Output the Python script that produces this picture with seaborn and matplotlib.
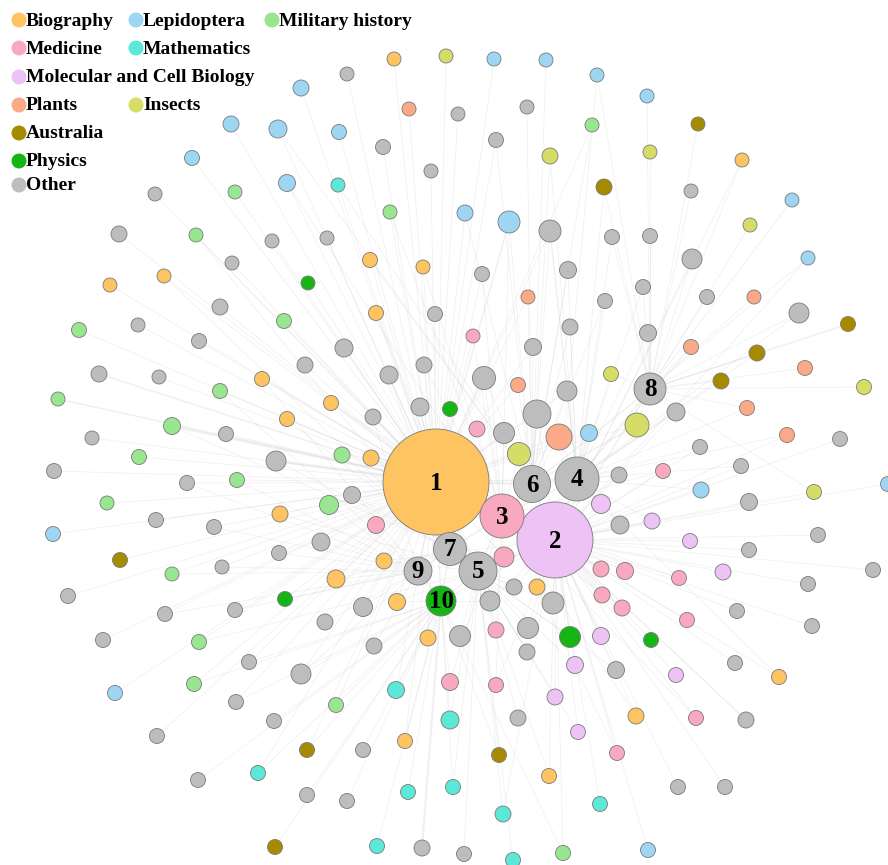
import numpy as np
import pandas as pd
import matplotlib
matplotlib.use("Agg")
import matplotlib.pyplot as plt
from matplotlib.collections import LineCollection
import seaborn as sns

# ---------------- data ----------------
categories = ["Biography", "Lepidoptera", "Military history", "Medicine", "Mathematics",
              "Molecular and Cell Biology", "Plants", "Insects", "Australia", "Physics", "Other"]
colors = ["#FDC461", "#9DD5F3", "#98E690", "#F8A9C0", "#5BE8D6",
          "#ECC3F4", "#FBAA88", "#D6DD66", "#A68A00", "#14B514", "#BDBDBD"]

# top-10 nodes (label = position + 1): x, y, radius, category
top_nodes = [
    (436, 482, 53, "Biography"),
    (555, 540, 38, "Molecular and Cell Biology"),
    (502, 516, 22, "Medicine"),
    (577, 479, 22, "Other"),
    (478, 571, 19, "Other"),
    (532, 484, 18.5, "Other"),
    (450, 549, 16.5, "Other"),
    (650, 389, 16, "Other"),
    (418, 571, 14, "Other"),
    (441, 601, 15, "Physics"),
]
# links between top nodes: (a, b, weight)
top_links = [(1, 2, 3), (1, 3, 3), (1, 4, 2), (1, 5, 2), (1, 6, 3), (1, 7, 3), (1, 9, 2),
             (1, 10, 2), (2, 3, 3), (2, 4, 3), (2, 5, 2), (2, 6, 2), (2, 8, 2), (3, 6, 2),
             (3, 5, 2), (3, 7, 2), (4, 6, 2), (4, 8, 2), (5, 7, 2), (5, 10, 2), (6, 8, 2),
             (7, 9, 2), (9, 10, 2), (7, 10, 2), (2, 10, 1), (3, 4, 2)]

# other nodes: x, y, radius, linked top nodes ("k*w" = weight w)
biography = [(394, 59, 7, "1"), (164, 276, 7, "1 7"), (110, 285, 7, "1"), (742, 160, 7, "2 8"),
             (370, 260, 7.5, "1 6"), (423, 267, 7, "1 3"), (376, 313, 7.5, "1 5"),
             (262, 379, 7.5, "1 9"), (287, 419, 7.5, "1 7"), (331, 403, 7.5, "1 3"),
             (371, 458, 8, "1 2 7"), (280, 514, 8, "1 5"), (384, 561, 8, "1 2 5"),
             (336, 579, 9, "1 7 9"), (397, 602, 8.5, "1 2 10"), (537, 587, 8, "2 5"),
             (428, 638, 8, "1 10"), (405, 741, 7.5, "1 10"), (549, 776, 7.5, "2 5"),
             (779, 677, 7.5, "2 4"), (636, 716, 8, "2 3")]
lepidoptera = [(301, 88, 8, "1"), (231, 124, 8, "1"), (278, 129, 9, "1 6"), (192, 158, 7.5, "1"),
               (287, 183, 8.5, "1 3"), (494, 59, 7, "1"), (546, 60, 7, "6"), (597, 75, 7, "2 8"),
               (339, 132, 7.5, "1"), (465, 213, 8, "1 6"), (509, 222, 11, "1*2 6 3"),
               (647, 96, 7, "8"), (792, 200, 7, "8"), (808, 258, 7, "2 8"),
               (589, 433, 8.5, "1 2 4"), (701, 490, 8, "2 4"), (888, 484, 7.5, "2"),
               (53, 534, 7.5, "1"), (115, 693, 7.5, "1"), (648, 850, 7.5, "2")]
military = [(592, 125, 7, "1 6"), (235, 192, 7, "1"), (196, 235, 7, "1 7"), (390, 212, 7, "1 3"),
            (284, 321, 7.5, "1"), (79, 330, 7.5, "1"), (220, 391, 7.5, "1 9"), (58, 399, 7, "1*2"),
            (172, 426, 8.5, "1*3 7"), (139, 457, 7.5, "1"), (237, 480, 7.5, "1 9"),
            (107, 503, 7, "1"), (172, 574, 7, "1 9"), (342, 455, 8, "1 7"),
            (329, 505, 9.5, "1 9"), (199, 642, 7.5, "1 5"), (194, 684, 7.5, "1 10"),
            (336, 705, 7.5, "1 10"), (563, 853, 7.5, "2 10")]
medicine = [(473, 336, 7, "1 3"), (477, 429, 8, "1 3"), (376, 525, 8.5, "1 3"),
            (504, 557, 10, "1 2 3"), (663, 471, 7.5, "2 3"), (601, 569, 8, "2 3"),
            (625, 571, 8.5, "2 3"), (679, 578, 7.5, "2 3"), (602, 595, 8, "2 3"),
            (622, 608, 8, "2 3"), (687, 620, 7.5, "2"), (496, 630, 8, "3 5"),
            (450, 682, 8.5, "3 10"), (496, 685, 7.5, "2 3"), (696, 718, 7.5, "2 3"),
            (617, 753, 7.5, "2 3")]
mathematics = [(338, 185, 7, "1 6"), (396, 690, 8.5, "1 10"), (450, 720, 9, "5 10"),
               (258, 773, 7.5, "1 10"), (408, 792, 7.5, "10"), (453, 787, 7.5, "5 10"),
               (503, 814, 8, "2 5"), (377, 846, 7.5, "10"), (513, 860, 7.5, "5"),
               (600, 804, 7.5, "2")]
molecular = [(601, 504, 9.5, "2 4"), (652, 521, 8, "2 4"), (690, 541, 7.5, "2"),
             (723, 572, 8, "2"), (601, 636, 8.5, "2"), (575, 665, 8.5, "2 5"),
             (555, 697, 8, "2 5"), (676, 675, 7.5, "2"), (578, 732, 7.5, "2 5")]
plants = [(409, 109, 7, "1"), (528, 297, 7, "1 6"), (518, 385, 7.5, "1 6"),
          (559, 437, 13, "1 4 6"), (754, 297, 7, "8"), (691, 347, 7.5, "4 8"),
          (805, 368, 7.5, "8"), (747, 408, 7.5, "4 8"), (787, 435, 7.5, "2 4")]
insects = [(446, 56, 7, "1"), (550, 156, 8, "6 4"), (650, 152, 7, "8"), (750, 225, 7, "8"),
           (611, 374, 7.5, "4 8"), (864, 387, 7.5, "8"), (637, 425, 12, "1 6*2 8"),
           (519, 454, 11.5, "1 3 6"), (814, 492, 7.5, "2 8")]
australia = [(698, 124, 7, "8"), (604, 187, 8, "4 8"), (848, 324, 7.5, "8*2"),
             (757, 353, 8, "4 8"), (721, 381, 8, "4 8"), (120, 560, 7.5, "1"),
             (307, 750, 7.5, "1 10"), (499, 755, 7.5, "5 10"), (275, 847, 7.5, "10")]
physics = [(308, 283, 7, "1"), (450, 409, 7.5, "1"), (285, 599, 7.5, "1 9"),
           (570, 637, 10.5, "2 5"), (651, 640, 7.5, "2")]
other = [(347, 74, 7, "1"), (458, 114, 7, "1"), (527, 107, 7, "6"), (383, 147, 7.5, "1"),
         (496, 140, 7.5, "1 6"), (431, 171, 7, "1"), (550, 231, 11, "1 4*2 6"),
         (327, 238, 7, "1"), (482, 274, 7.5, "1 3"), (568, 270, 8.5, "4 6"),
         (155, 194, 7, "1"), (119, 234, 8, "1"), (272, 241, 7, "1"), (232, 263, 7, "1"),
         (691, 191, 7, "8"), (612, 237, 7.5, "4 8"), (650, 236, 7.5, "8"),
         (692, 259, 10, "2 8"), (643, 287, 7.5, "4 8"), (605, 301, 7.5, "4 6"),
         (707, 297, 7.5, "8"), (799, 313, 10, "8 4"), (648, 333, 8.5, "4 8"),
         (676, 412, 9, "2 4 8"), (700, 447, 7.5, "2 4"), (741, 466, 7.5, "2 4"),
         (840, 439, 7.5, "2"), (619, 475, 8, "2 4"), (749, 502, 8.5, "2"),
         (620, 525, 9, "2 4"), (818, 535, 7.5, "2"), (749, 550, 7.5, "2"),
         (873, 570, 7.5, "2"), (808, 584, 7.5, "2"), (737, 611, 7.5, "2"),
         (812, 626, 7.5, "2"), (616, 670, 8.5, "2 5"), (735, 663, 7.5, "2"),
         (746, 720, 8, "2*2"), (678, 787, 7.5, "2"), (725, 787, 7.5, "2"),
         (220, 307, 8, "1"), (138, 325, 7, "1"), (199, 341, 7.5, "1"), (99, 374, 8, "1*2"),
         (159, 377, 7, "1"), (226, 434, 7.5, "1"), (92, 438, 7, "1"), (276, 461, 10, "1*4 7"),
         (54, 471, 7.5, "1"), (187, 483, 7.5, "1 9"), (156, 520, 7.5, "1"),
         (214, 527, 7.5, "1 9"), (279, 553, 7.5, "1 9"), (222, 567, 7, "1 9"),
         (435, 314, 7.5, "1"), (344, 348, 9, "1"), (305, 365, 8, "1"), (389, 375, 9, "1 7"),
         (424, 365, 8, "1 3"), (484, 378, 11.5, "1 3 6"), (533, 347, 8.5, "1 6"),
         (570, 327, 8, "4 6"), (567, 391, 10, "1 4 6"), (373, 417, 8, "1 9"),
         (420, 407, 9, "1 7"), (537, 414, 14, "1 2 6*2"), (504, 433, 10.5, "1 3"),
         (352, 495, 8.5, "1 7"), (321, 542, 9, "1 9"), (68, 596, 7.5, "1"),
         (165, 614, 7.5, "1 9"), (235, 610, 7.5, "1 9"), (103, 640, 7.5, "1"),
         (249, 662, 7.5, "1 10"), (301, 674, 10, "1 9 10"), (236, 702, 7.5, "1 10"),
         (274, 721, 7.5, "10"), (157, 736, 7.5, "1"), (198, 780, 7.5, "10"),
         (363, 607, 9.5, "1 9"), (514, 587, 8, "2 5"), (490, 601, 10, "2 5 10"),
         (553, 603, 11, "2 5"), (325, 622, 8, "1 9"), (460, 636, 10.5, "5 10"),
         (528, 628, 10.5, "2 5"), (374, 646, 8, "9 10"), (527, 652, 8, "2 5"),
         (518, 718, 8, "5"), (363, 750, 7.5, "10"), (307, 795, 7.5, "10"),
         (347, 801, 7.5, "10"), (422, 848, 8, "10*3"), (464, 854, 7.5, "5")]

groups = {"Biography": biography, "Lepidoptera": lepidoptera, "Military history": military,
          "Medicine": medicine, "Mathematics": mathematics,
          "Molecular and Cell Biology": molecular, "Plants": plants, "Insects": insects,
          "Australia": australia, "Physics": physics, "Other": other}

legend_rows = [["Biography", "Lepidoptera", "Military history"], ["Medicine", "Mathematics"],
               ["Molecular and Cell Biology"], ["Plants", "Insects"], ["Australia"],
               ["Physics"], ["Other"]]

# ---------------- build tables ----------------
W, H, DPI = 888, 865, 100
rows = []
for i, (x, y, r, c) in enumerate(top_nodes):
    rows.append(dict(x=x, y=y, r=r, category=c, label=str(i + 1), links=""))
for c, lst in groups.items():
    for (x, y, r, lk) in lst:
        rows.append(dict(x=x, y=y, r=r, category=c, label="", links=lk))
df = pd.DataFrame(rows)
df["s"] = (2 * df["r"] * 72 / DPI) ** 2

segs, widths = [], []
for a, b, w in top_links:
    pa, pb = top_nodes[a - 1], top_nodes[b - 1]
    segs.append([(pa[0], pa[1]), (pb[0], pb[1])])
    widths.append(w)
for _, row in df.iterrows():
    if not row["links"]:
        continue
    for tok in row["links"].split():
        if "*" in tok:
            k, w = tok.split("*")
            k, w = int(k), float(w)
        else:
            k, w = int(tok), 1.0
        t = top_nodes[k - 1]
        segs.append([(row["x"], row["y"]), (t[0], t[1])])
        widths.append(w)

# ---------------- draw ----------------
sns.set_theme(style="white")
plt.rcParams["font.family"] = ["Liberation Serif", "DejaVu Serif"]

fig = plt.figure(figsize=(W / DPI, H / DPI), dpi=DPI)
ax = fig.add_axes([0, 0, 1, 1])
ax.set_xlim(0, W)
ax.set_ylim(H, 0)
ax.axis("off")

lc = LineCollection(segs, colors="#d2d2d2", linewidths=[0.5 * w for w in widths],
                    alpha=0.35, zorder=1)
ax.add_collection(lc)

palette = dict(zip(categories, colors))
dplot = df.sort_values("r", ascending=False, kind="stable")
smin, smax = df["s"].min(), df["s"].max()
sns.scatterplot(data=dplot, x="x", y="y", hue="category", palette=palette,
                size="s", sizes=(smin, smax), size_norm=(smin, smax),
                edgecolor="#7a7a7a", linewidth=0.6, legend=False, ax=ax, zorder=2)
ax.set_xlim(0, W)
ax.set_ylim(H, 0)
ax.axis("off")

for _, row in df[df["label"] != ""].iterrows():
    ax.text(row["x"], row["y"] + 1, row["label"], ha="center", va="center",
            fontsize=18, fontweight="bold", color="black", zorder=4,
            family=["Liberation Serif", "DejaVu Serif"])

# legend (flowing layout)
col_x = [19, 136, 272]
row_y = [20, 48, 77, 105, 133, 161, 185]
for ri, names in enumerate(legend_rows):
    for ci, name in enumerate(names):
        cx, cy = col_x[ci], row_y[ri]
        ax.scatter([cx], [cy], s=(2 * 7.5 * 0.72) ** 2, color=palette[name],
                   edgecolor="none", zorder=5)
        ax.text(cx + 7, cy + 1, name, ha="left", va="center", fontsize=14,
                fontweight="bold", color="black", zorder=5,
                family=["Liberation Serif", "DejaVu Serif"])

fig.savefig("out.png", dpi=DPI)
